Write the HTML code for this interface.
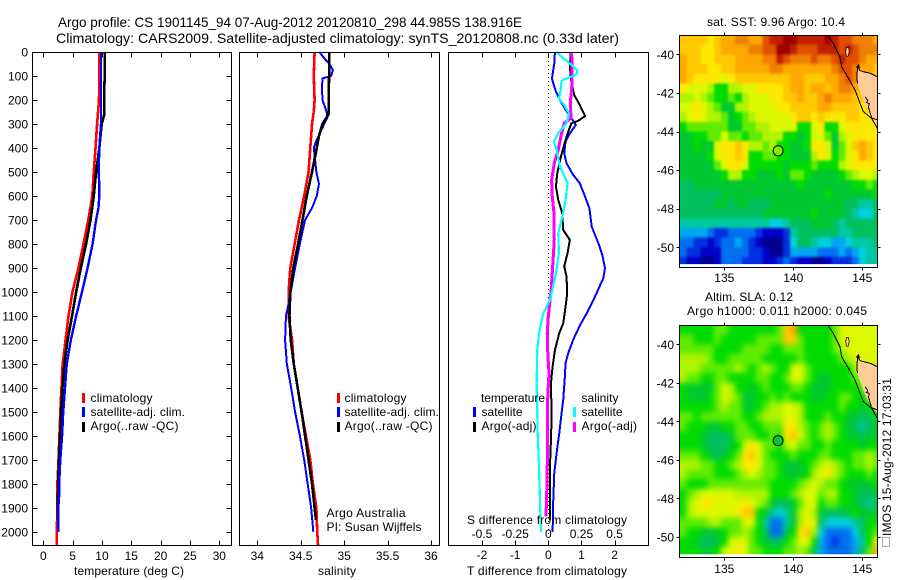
<!DOCTYPE html>
<html>
<head>
<meta charset="utf-8">
<title>Argo profile</title>
<style>
html,body{margin:0;padding:0;background:#fff;}
svg{display:block;}
text{font-family:"Liberation Sans",sans-serif;font-size:12px;fill:#000;}
.title{font-size:14px;}
</style>
</head>
<body>
<svg id="chart" width="900" height="580" viewBox="0 0 900 580" xmlns="http://www.w3.org/2000/svg">
  <defs>
    <filter id="blur-sst" filterUnits="userSpaceOnUse" x="650" y="10" width="250" height="280" color-interpolation-filters="sRGB"><feGaussianBlur stdDeviation="1.2"/></filter>
    <filter id="blur-sla" filterUnits="userSpaceOnUse" x="650" y="300" width="250" height="280" color-interpolation-filters="sRGB"><feGaussianBlur stdDeviation="3"/></filter>
    <clipPath id="clip-sst"><rect x="679.5" y="35.5" width="198" height="228.6"/></clipPath>
    <clipPath id="clip-sla"><rect x="679.5" y="325.5" width="198" height="228.8"/></clipPath>
  </defs>
  <rect x="0" y="0" width="900" height="580" fill="#fff"/>
  <text class="title" x="58" y="27" textLength="464" lengthAdjust="spacingAndGlyphs">Argo profile: CS 1901145_94 07-Aug-2012 20120810_298 44.985S 138.916E</text>
  <text class="title" x="56" y="43" textLength="563" lengthAdjust="spacingAndGlyphs">Climatology: CARS2009. Satellite-adjusted climatology: synTS_20120808.nc (0.33d later)</text>
  <g id="plots"></g>
  <g>
    <rect x="82" y="393" width="3" height="10" fill="#f00"/>
    <text x="90.5" y="402" textLength="62">climatology</text>
    <rect x="82" y="407" width="3" height="10" fill="#00f"/>
    <text x="90.5" y="416" textLength="94.5">satellite-adj. clim.</text>
    <rect x="82" y="422" width="3" height="10" fill="#000"/>
    <text x="90.5" y="430" textLength="88">Argo(..raw -QC)</text>
  </g>
  <g>
    <rect x="337" y="393" width="3" height="10" fill="#f00"/>
    <text x="344.5" y="402" textLength="62">climatology</text>
    <rect x="337" y="407" width="3" height="10" fill="#00f"/>
    <text x="344.5" y="416" textLength="94.5">satellite-adj. clim.</text>
    <rect x="337" y="422" width="3" height="10" fill="#000"/>
    <text x="344.5" y="430" textLength="88">Argo(..raw -QC)</text>
    <text x="326.5" y="517" textLength="79">Argo Australia</text>
    <text x="326.5" y="531" textLength="95">PI: Susan Wijffels</text>
  </g>
  <g>
    <text x="481" y="402" textLength="64">temperature</text>
    <rect x="473" y="407" width="3" height="10" fill="#00f"/>
    <text x="481.5" y="416" textLength="41">satellite</text>
    <rect x="473" y="422" width="3" height="10" fill="#000"/>
    <text x="481.5" y="430" textLength="55">Argo(-adj)</text>
    <text x="581.5" y="402" textLength="37">salinity</text>
    <rect x="573" y="407" width="3" height="10" fill="#0ff"/>
    <text x="581.5" y="416" textLength="41">satellite</text>
    <rect x="573" y="422" width="3" height="10" fill="#f0f"/>
    <text x="581.5" y="430" textLength="55.5">Argo(-adj)</text>
  </g>
  <text x="74" y="575" textLength="110">temperature (deg C)</text>
  <text x="318" y="575" textLength="38">salinity</text>
  <text x="467" y="575" textLength="160">T difference from climatology</text>
  <text x="467" y="524" textLength="160">S difference from climatology</text>
  <text x="707" y="26" textLength="138">sat. SST: 9.96 Argo: 10.4</text>
  <text x="705" y="301" textLength="88">Altim. SLA: 0.12</text>
  <text x="687" y="315" textLength="180">Argo h1000: 0.011 h2000: 0.045</text>
  <rect x="882.5" y="537.5" width="7" height="9" fill="none" stroke="#555" stroke-width="1" stroke-dasharray="1 1"/>
  <text transform="translate(891,536) rotate(-90)" textLength="158">IMOS 15-Aug-2012 17:03:31</text>
</svg>
<script>
// ---------- axis tick data ----------
const depthTicks = [0,100,200,300,400,500,600,700,800,900,1000,1100,1200,1300,1400,1500,1600,1700,1800,1900,2000];
const tempTicks = [0,5,10,15,20,25,30];
const salTicks = [34,34.5,35,35.5,36];
const salTickLabels = ['34','34.5','35','35.5','36'];
const tDiffTicks = [-2,-1,0,1,2];
const sDiffTicks = [-0.5,-0.25,0,0.25,0.5];
const sDiffTickLabels = ['-0.5','-0.25','0','0.25','0.5'];
const lonTicks = [135,140,145];
const latTicks = [-40,-42,-44,-46,-48,-50];

// ---------- temperature profiles ----------
const tempClimDepths = [0,200,300,400,500,600,700,800,900,1000,1100,1200,1300,1400,1500,1600,1700,1800,1900,2000,2058];
const tempClimValues = [9.55,9.5,9.17,8.9,8.6,8.35,7.68,6.85,6.0,4.97,4.3,3.8,3.3,3.1,2.9,2.75,2.6,2.4,2.4,2.3,2.3];
const tempSatDepths = [0,100,200,300,400,500,560,600,650,700,800,900,1000,1100,1200,1300,1400,1500,1600,1700,1800,1850,1900,2000];
const tempSatValues = [9.83,9.83,9.83,9.83,9.55,9.43,9.55,9.55,9.4,9.0,8.4,7.55,6.6,5.6,4.7,4.0,3.7,3.4,3.2,2.9,2.7,2.7,2.55,2.55];
const tempArgoDepths = [0,100,140,260,300,400,500,600,700,800,900,1000,1100,1200,1300,1400,1500,1600,1700,1800,1900,1950];
const tempArgoValues = [10.5,10.5,10.4,10.4,9.95,9.55,9.0,8.6,8.05,7.3,6.4,5.6,4.9,4.15,3.6,3.25,3.05,2.85,2.65,2.55,2.45,2.45];

// ---------- salinity profiles ----------
const salClimDepths = [0,100,200,250,300,400,500,600,700,800,900,1000,1100,1200,1300,1400,1500,1600,1700,1800,1900,2000,2058];
const salClimValues = [34.66,34.65,34.66,34.65,34.63,34.61,34.59,34.54,34.48,34.43,34.38,34.36,34.36,34.40,34.42,34.465,34.51,34.56,34.61,34.64,34.68,34.69,34.70];
const salSatDepths = [0,30,50,75,100,110,150,200,240,270,300,340,370,400,430,500,550,600,650,700,800,900,1000,1050,1100,1200,1300,1400,1500,1600,1700,1800,1900,2000];
const salSatValues = [34.715,34.78,34.83,34.87,34.85,34.75,34.745,34.75,34.79,34.81,34.77,34.72,34.68,34.65,34.66,34.68,34.71,34.685,34.63,34.55,34.49,34.435,34.385,34.36,34.33,34.32,34.34,34.39,34.435,34.49,34.54,34.58,34.62,34.645];
const salArgoDepths = [0,260,300,350,400,500,600,700,800,900,1000,1100,1200,1300,1400,1500,1600,1700,1800,1900,1950];
const salArgoValues = [34.83,34.82,34.75,34.71,34.685,34.63,34.57,34.52,34.47,34.415,34.38,34.37,34.385,34.42,34.465,34.51,34.55,34.59,34.63,34.66,34.675];

// ---------- difference profiles ----------
const tDiffSatDepths = [0,47,75,110,130,165,200,240,276,304,339,374,422,464,512,547,596,651,728,797,846,901,943,1034,1089,1138,1200,1256,1297,1353,1450,1506,1590,1673,1756,1867,2000];
const tDiffSatValues = [0.2,0.18,0.15,0.11,0.15,0.23,0.35,0.52,0.70,0.83,0.65,0.52,0.48,0.55,0.75,0.95,1.09,1.24,1.31,1.51,1.63,1.71,1.66,1.36,1.16,0.96,0.75,0.60,0.52,0.50,0.45,0.40,0.33,0.25,0.18,0.15,0.13];
const tDiffArgoDepths = [0,61,130,179,221,267,287,297,325,367,436,506,561,617,672,742,783,839,894,936,1006,1061,1131,1172,1242,1311,1381,1520,1617,1728,1867,1950];
const tDiffArgoValues = [0.68,0.65,0.70,0.78,0.95,1.11,0.90,0.70,0.62,0.52,0.38,0.27,0.23,0.30,0.42,0.45,0.65,0.58,0.48,0.55,0.57,0.52,0.45,0.33,0.20,0.13,0.08,0.10,0.08,0.05,0.05,0.05];
const sDiffSatDepths = [0,26,54,78,96,110,119,158,193,221,256,297,339,374,408,478,547,617,686,756,839,922,1006,1034,1089,1172,1242,1381,1590,1728,1867,2000];
const sDiffSatValues = [0.0628,0.113,0.176,0.219,0.208,0.138,0.10,0.093,0.08,0.12,0.156,0.138,0.075,0.043,0.063,0.088,0.146,0.13,0.106,0.075,0.08,0.058,0.025,0.013,-0.038,-0.07,-0.083,-0.088,-0.08,-0.07,-0.063,-0.055];
const sDiffArgoDepths = [0,89,158,200,276,297,339,408,464,533,603,672,783,894,1006,1034,1103,1172,1242,1339,1450,1590,1728,1867,1936];
const sDiffArgoValues = [0.176,0.18,0.176,0.168,0.17,0.12,0.10,0.075,0.045,0.025,0.03,0.043,0.045,0.033,0.02,0.013,0,-0.008,-0.005,0.005,-0.005,-0.005,-0.008,-0.013,-0.018];

// ---------- heatmap values (colour-scale level per 0.5 degree cell, north to south) ----------
const sstValues = [
[14,14,14,14,13,14,15,15,16,16,15,15,17,18,18,19,19,18,18,18,18,19,18,17,17,16,16,16,15],
[14,14,14,13,13,14,15,15,15,15,16,16,17,17,19,19,18,17,17,17,18,18,18,17,18,17,16,16,16],
[15,14,14,13,13,14,14,14,15,15,15,15,16,16,18,17,16,16,16,17,16,16,17,18,17,17,16,15,15],
[15,14,14,14,13,13,14,14,15,15,15,15,15,16,16,15,15,15,15,15,15,15,16,17,17,16,15,15,14],
[15,14,13,13,13,13,12,13,14,14,14,14,14,14,14,14,15,15,14,14,14,15,15,16,17,16,15,14,14],
[13,12,12,12,11,9,9,11,11,12,12,13,13,13,13,14,15,15,14,15,15,14,15,16,16,15,14,14,14],
[11,11,12,11,10,9,9,10,9,11,12,12,12,13,13,14,14,15,14,14,15,16,15,15,15,14,14,14,14],
[12,12,13,12,11,10,8,8,11,11,12,12,12,12,13,13,14,14,14,14,15,15,14,14,14,14,13,14,14],
[11,12,13,12,11,11,10,8,9,10,11,12,12,12,12,12,13,14,14,13,14,13,13,13,14,14,13,13,13],
[9,10,10,10,10,10,10,8,8,10,10,11,11,12,12,12,12,9,9,12,13,9,9,12,13,13,13,13,13],
[8,8,9,9,10,10,12,10,10,9,10,10,11,11,11,9,9,8,9,12,12,10,8,11,12,13,13,13,13],
[8,8,9,8,8,12,13,13,14,13,11,11,10,11,9,9,8,8,9,13,13,12,8,10,12,14,15,14,13],
[8,8,8,8,9,12,13,13,14,13,9,9,10,10,9,9,8,8,8,11,13,12,9,10,12,13,15,14,13],
[8,8,8,8,8,10,12,13,13,12,9,9,9,9,9,8,9,9,9,10,9,9,9,11,12,13,13,13,13],
[8,8,8,8,8,8,9,11,11,9,9,8,8,8,9,8,10,10,9,8,8,8,8,9,10,11,12,12,11],
[7,7,8,8,8,8,8,8,8,8,8,8,8,8,8,8,8,9,8,8,8,8,8,8,8,9,9,10,9],
[7,7,7,7,7,7,8,8,8,8,8,8,8,8,8,8,8,8,8,8,8,9,8,8,8,8,8,8,9],
[7,7,7,7,7,8,8,7,8,8,7,7,7,8,8,8,8,8,8,8,8,8,8,8,7,7,6,6,7],
[7,7,7,7,7,7,7,7,7,7,7,7,8,8,8,8,8,8,8,9,8,8,8,8,7,6,5,5,7],
[6,6,6,6,6,6,6,6,6,6,6,6,6,5,5,6,7,7,7,8,8,8,7,6,7,7,7,7,7],
[4,4,4,4,3,2,2,3,3,3,3,2,1,1,1,2,6,7,7,7,7,7,7,6,6,7,7,7,7],
[3,3,2,2,1,2,3,3,4,3,2,1,0,0,0,2,5,7,7,6,5,5,4,4,5,6,6,6,7],
[3,2,2,1,1,1,3,3,3,3,2,2,1,0,0,2,4,4,4,4,3,3,3,4,3,4,5,6,6],
[2,1,1,0,0,1,3,3,3,2,2,2,1,1,2,3,2,1,1,0,0,1,2,2,2,3,5,6,6]
];
const slaValues = [
[9,9,9,9,9,10,10,9,9,9,9,9,9,9,10,14,15,9,9,9,9,9,10,12,12,12,12,12,12],
[10,10,9,9,9,10,9,9,9,9,9,10,10,10,10,14,14,10,9,9,9,9,10,12,12,12,12,12,12],
[10,10,10,10,10,9,9,9,9,10,10,10,10,9,9,10,10,10,9,9,9,9,10,11,12,12,12,12,12],
[11,11,11,11,10,9,9,10,10,10,10,10,9,9,9,9,9,10,9,9,9,9,9,10,11,12,12,12,12],
[11,11,11,10,10,10,10,10,11,10,9,10,11,10,9,9,12,12,10,9,9,9,9,9,9,11,11,11,11],
[11,10,10,9,9,10,10,9,9,9,9,10,10,9,9,10,12,12,10,9,8,8,9,9,9,10,10,10,10],
[9,8,8,8,8,10,12,11,9,9,8,9,10,9,9,9,10,10,9,8,8,8,9,9,9,9,10,10,10],
[9,8,8,8,9,10,12,11,10,8,8,9,9,10,9,10,9,9,9,8,8,9,9,10,10,9,9,10,9],
[9,9,9,9,9,10,11,10,10,8,8,9,10,11,11,12,12,11,9,9,9,9,9,10,9,9,8,9,9],
[10,10,9,10,10,10,10,10,10,9,9,10,11,11,11,12,12,11,9,9,9,10,9,9,8,8,7,7,9],
[10,9,9,9,8,8,9,9,10,10,9,9,10,10,10,13,13,11,10,9,10,11,10,9,8,7,6,7,8],
[9,9,9,8,7,7,7,8,10,10,10,9,9,10,9,13,14,12,10,9,10,11,10,9,8,8,7,8,8],
[9,9,9,8,7,7,7,8,9,12,13,12,10,10,9,11,12,10,10,9,9,10,9,9,9,9,8,9,9],
[10,10,10,9,8,7,8,9,10,13,14,12,10,9,9,9,10,9,9,9,10,10,9,9,9,10,10,11,10],
[11,11,11,10,10,9,9,10,11,13,13,12,10,10,9,8,8,8,9,10,11,12,11,10,9,10,10,11,10],
[11,10,10,10,10,9,9,9,10,11,12,11,10,10,9,8,8,8,9,11,12,13,11,10,9,9,9,10,9],
[10,9,9,9,10,10,10,10,10,10,10,10,10,9,9,9,9,10,11,12,11,10,10,9,8,8,8,8,9],
[9,10,11,12,12,12,12,12,11,11,11,11,11,9,9,9,10,11,12,12,10,11,11,9,9,8,7,7,8],
[9,11,12,13,13,12,12,12,12,13,12,11,10,8,7,7,8,10,12,12,9,10,10,9,9,8,7,6,7],
[9,11,12,12,12,12,12,12,13,14,14,9,8,6,5,6,8,11,12,11,8,7,7,7,8,9,8,8,8],
[10,10,10,10,11,11,10,10,10,12,12,9,6,3,3,6,8,11,13,12,7,5,5,5,5,6,7,9,9],
[10,9,9,8,8,8,9,10,10,11,10,9,7,3,3,7,9,13,14,11,5,3,3,3,3,5,7,9,10],
[9,9,8,7,7,8,9,12,12,12,10,9,8,7,7,9,10,12,12,9,4,3,2,3,3,4,6,9,13],
[9,9,9,8,8,9,12,12,13,12,10,10,9,9,9,10,10,11,10,7,4,3,3,3,3,4,7,10,15]
];
const colorLevels = ['#00008c','#0000c8','#0030e0','#0070f0','#00a8f0','#00d0e0','#00c8a0','#00c060','#00c830','#00dc00','#60ec00','#b0f400','#dcf800','#ffe800','#ffc800','#ffa800','#f08000','#e05000','#c02000','#a00000'];

// ---------- geography (lon, lat) ----------
const landLons = [144.64,145.07,145.56,146.09,146.09,145.68,145.31,145.07,144.64];
const landLats = [-40.73,-40.90,-40.98,-41.16,-43.58,-43.23,-42.80,-42.37,-41.50];
const coastLons = [142.54,142.90,143.38,143.50,143.99,144.47,144.83,145.07,145.68,146.09];
const coastLats = [-39.05,-39.43,-40.12,-40.64,-41.24,-41.85,-42.54,-42.97,-43.32,-43.83];
const islandLons = [143.85,144.0,144.05,143.98,143.85,143.8];
const islandLats = [-39.65,-39.65,-39.85,-40.1,-40.1,-39.85];
const shoreLons = [144.64,144.62,144.72,144.78,144.64,144.62,144.85,145.07,145.56,146.09];
const shoreLats = [-41.5,-40.95,-40.5,-40.7,-40.73,-40.6,-40.85,-40.9,-40.98,-41.16];
const shore2Lons = [145.2,145.4,145.3,145.5,145.45,145.68,146.09];
const shore2Lats = [-42.2,-42.4,-42.5,-42.55,-42.75,-43.3,-43.4];
const argoLon = 138.9;
const argoLat = -45;

// ---------- helpers ----------
const NS = 'http://www.w3.org/2000/svg';
const root = document.getElementById('plots');
function make(tag, props, parent) {
  const el = document.createElementNS(NS, tag);
  for (const k in props) el.setAttribute(k, props[k]);
  (parent || root).appendChild(el);
  return el;
}
function makeGroup(name) {
  const g = make('g', {});
  
  
  return g;
}
function label(parent, str, x, y, anchor) {
  const t = make('text', {x: x, y: y, 'text-anchor': anchor}, parent);
  t.textContent = str;
  
  
  return t;
}
function tickLine(parent, x1, y1, x2, y2) {
  const l = make('line', {x1: x1, y1: y1, x2: x2, y2: y2, stroke: '#000', 'stroke-width': 1, 'shape-rendering': 'crispEdges'}, parent);
  
  
  return l;
}

// ---------- profile panels ----------
const panelTop = 52;
const panelBottom = 545.5;
const depthY = d => 52 + d * 0.2399;
const tempX = v => 43.3 + v * 5.867;
const salX = v => 257.3 + (v - 34) * 86.85;
const tDiffX = v => 548.3 + v * 33.15;
const sDiffX = v => 548.3 + v * 132.6;

function drawFrame(name, left, right) {
  const f = make('rect', {x: left, y: panelTop + 0.5, width: right - left, height: panelBottom - panelTop - 0.5, fill: 'none', stroke: '#000', 'stroke-width': 1, 'shape-rendering': 'crispEdges'});
  
  
}
function drawProfile(name, g, xFn, depths, values, color, width) {
  const pts = depths.map((d, i) => xFn(values[i]).toFixed(2) + ',' + depthY(d).toFixed(2)).join(' ');
  const p = make('polyline', {points: pts, fill: 'none', stroke: color, 'stroke-width': width, 'shape-rendering': 'crispEdges', 'stroke-linejoin': 'round'}, g);
  
  
}

// temperature panel
const tempPanel = makeGroup('temperature-panel');
drawProfile('temperature-climatology-line', tempPanel, tempX, tempClimDepths, tempClimValues, '#f00', 2.6);
drawProfile('temperature-argo-line', tempPanel, tempX, tempArgoDepths, tempArgoValues, '#000', 2.6);
drawProfile('temperature-satellite-line', tempPanel, tempX, tempSatDepths, tempSatValues, '#00f', 2.4);
drawFrame('temperature-plot-frame', 32.5, 231.5);
depthTicks.forEach(d => {
  const y = Math.round(depthY(d)) + 0.5;
  if (d > 0) {
    tickLine(tempPanel, 32.5, y, 37.5, y);
    tickLine(tempPanel, 231.5, y, 226.5, y);
  }
  label(tempPanel, String(d), 28, Math.round(depthY(d)) + 4.5, 'end');
});
tempTicks.forEach(v => {
  const x = Math.round(tempX(v)) + 0.5;
  tickLine(tempPanel, x, 52.5, x, 57.5);
  tickLine(tempPanel, x, 545.5, x, 540.5);
  label(tempPanel, String(v), tempX(v), 560, 'middle');
});

// salinity panel
const salPanel = makeGroup('salinity-panel');
drawProfile('salinity-climatology-line', salPanel, salX, salClimDepths, salClimValues, '#f00', 2.6);
drawProfile('salinity-satellite-line', salPanel, salX, salSatDepths, salSatValues, '#00f', 2);
drawProfile('salinity-argo-line', salPanel, salX, salArgoDepths, salArgoValues, '#000', 2.6);
drawFrame('salinity-plot-frame', 239.5, 439.5);
salTicks.forEach((v, i) => {
  const x = Math.round(salX(v)) + 0.5;
  tickLine(salPanel, x, 52.5, x, 57.5);
  tickLine(salPanel, x, 545.5, x, 540.5);
  label(salPanel, salTickLabels[i], salX(v), 560, 'middle');
});

// difference panel
const diffPanel = makeGroup('difference-panel');
const zero = make('line', {x1: 548.5, y1: 53, x2: 548.5, y2: 545, stroke: '#000', 'stroke-width': 1, 'stroke-dasharray': '1 3', 'shape-rendering': 'crispEdges'}, diffPanel);


drawProfile('t-difference-satellite-line', diffPanel, tDiffX, tDiffSatDepths, tDiffSatValues, '#00f', 2);
drawProfile('t-difference-argo-line', diffPanel, tDiffX, tDiffArgoDepths, tDiffArgoValues, '#000', 2);
drawProfile('s-difference-argo-line', diffPanel, sDiffX, sDiffArgoDepths, sDiffArgoValues, '#f0f', 3);
drawProfile('s-difference-satellite-line', diffPanel, sDiffX, sDiffSatDepths, sDiffSatValues, '#0ff', 2.2);
drawFrame('difference-plot-frame', 448.5, 648.5);
tDiffTicks.forEach(v => {
  const x = Math.round(tDiffX(v)) + 0.5;
  tickLine(diffPanel, x, 52.5, x, 57.5);
  tickLine(diffPanel, x, 545.5, x, 540.5);
  label(diffPanel, String(v), tDiffX(v), 559, 'middle');
});
sDiffTicks.forEach((v, i) => {
  label(diffPanel, sDiffTickLabels[i], sDiffX(v), 538, 'middle');
});

// ---------- maps ----------
const lonX = lon => 724.3 + (lon - 135) * 13.8;
const LON0 = 131.77;
const LAT0 = -39;
const CELL = 0.5;
const EDGE_PAD = 14;

function polyPoints(lons, lats, latY) {
  return lons.map((lon, i) => lonX(lon).toFixed(1) + ',' + latY(lats[i]).toFixed(1)).join(' ');
}
function drawMap(name, values, latY, frameTop, frameBottom, lonLabelY, markerFill, blurId, clipId) {
  const g = makeGroup(name);
  const clipGroup = make('g', {'clip-path': 'url(#' + clipId + ')'}, g);
  
  
  const cells = make('g', {filter: 'url(#' + blurId + ')'}, clipGroup);
  
  
  values.forEach((row, j) => {
    row.forEach((v, i) => {
      let x0 = lonX(LON0 + i * CELL);
      let x1 = lonX(LON0 + (i + 1) * CELL);
      let y0 = latY(LAT0 - j * CELL);
      let y1 = latY(LAT0 - (j + 1) * CELL);
      if (i === 0) x0 -= EDGE_PAD;
      if (i === row.length - 1) x1 += EDGE_PAD;
      if (j === 0) y0 -= EDGE_PAD;
      if (j === values.length - 1) y1 += EDGE_PAD;
      const r = make('rect', {x: x0.toFixed(2), y: y0.toFixed(2), width: (x1 - x0 + 0.4).toFixed(2), height: (y1 - y0 + 0.4).toFixed(2), fill: colorLevels[Math.max(0, Math.min(colorLevels.length - 1, Math.round(v)))], 'shape-rendering': 'crispEdges'}, cells);
      
      
    });
  });
  const land = make('polygon', {points: polyPoints(landLons, landLats, latY), fill: '#ffcc99', stroke: 'none'}, g);
  
  
  const island = make('polygon', {points: polyPoints(islandLons, islandLats, latY), fill: '#ffcc99', stroke: '#000', 'stroke-width': 0.7}, g);
  
  
  const coast = make('polyline', {points: polyPoints(coastLons, coastLats, latY), fill: 'none', stroke: '#000', 'stroke-width': 1, 'shape-rendering': 'crispEdges'}, g);
  
  
  const shore = make('polyline', {points: polyPoints(shoreLons, shoreLats, latY), fill: 'none', stroke: '#000', 'stroke-width': 1, 'shape-rendering': 'crispEdges'}, g);
  
  
  const shore2 = make('polyline', {points: polyPoints(shore2Lons, shore2Lats, latY), fill: 'none', stroke: '#000', 'stroke-width': 1, 'shape-rendering': 'crispEdges'}, g);
  
  
  const marker = make('circle', {cx: lonX(argoLon), cy: latY(argoLat), r: 5, fill: markerFill, stroke: '#000', 'stroke-width': 1}, g);
  
  
  const frame = make('rect', {x: 679.5, y: frameTop, width: 198, height: frameBottom - frameTop, fill: 'none', stroke: '#000', 'stroke-width': 1, 'shape-rendering': 'crispEdges'}, g);
  
  
  lonTicks.forEach(lon => {
    const x = Math.round(lonX(lon)) + 0.5;
    tickLine(g, x, frameTop, x, frameTop - 3);
    tickLine(g, x, frameBottom, x, frameBottom + 3);
    label(g, String(lon), lonX(lon), lonLabelY, 'middle');
  });
  latTicks.forEach(lat => {
    const y = Math.round(latY(lat)) + 0.5;
    tickLine(g, 679.5, y, 676.5, y);
    tickLine(g, 877.5, y, 880.5, y);
    label(g, String(lat), 674, latY(lat) + 4.5, 'end');
  });
}
drawMap('sst-map', sstValues, lat => 54.3 + (-40 - lat) * 19.3, 35.5, 267.5, 282, '#80f000', 'blur-sst', 'clip-sst');
drawMap('sla-map', slaValues, lat => 344.3 + (-40 - lat) * 19.27, 325.5, 557.5, 573, '#00c830', 'blur-sla', 'clip-sla');
</script>
</body>
</html>
